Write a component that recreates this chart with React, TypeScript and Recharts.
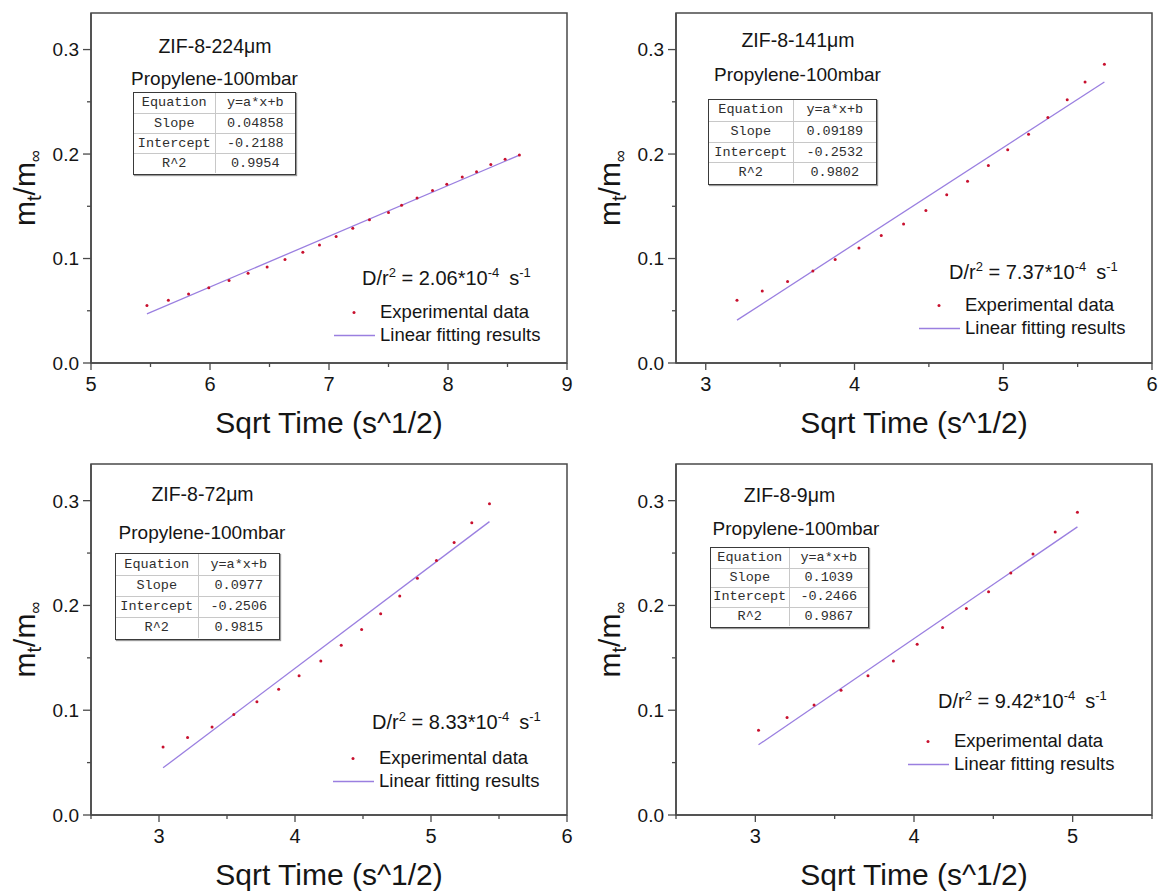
import React from "react";
import { ScatterChart, Scatter, XAxis, YAxis, ReferenceArea, Legend } from "recharts";

const FONT = "'Liberation Sans', Arial, Helvetica, sans-serif";
const MONO = "'Liberation Mono', 'DejaVu Sans Mono', monospace";
const AXIS = "#4a4a4a";
const DOT = "#c8102e";
const FIT = "#9a7fe0";
const TXT = "#151515";

// y axis (shared by all four panels)
const yTicks = [0, 0.05, 0.1, 0.15, 0.2, 0.25, 0.3];
const yDomain = [0, 0.335];

// ZIF-8-224um
const x224 = [5.47, 5.65, 5.82, 5.99, 6.16, 6.32, 6.48, 6.63, 6.78, 6.92, 7.06, 7.2, 7.34, 7.5, 7.61, 7.74, 7.87, 7.99, 8.12, 8.24, 8.36, 8.48, 8.6];
const y224 = [0.055, 0.06, 0.066, 0.072, 0.079, 0.086, 0.092, 0.099, 0.106, 0.113, 0.121, 0.129, 0.137, 0.144, 0.151, 0.158, 0.165, 0.171, 0.178, 0.183, 0.19, 0.195, 0.199];
const fitX224 = [5.47, 8.6];
const fitY224 = [0.047, 0.199];
const xTicks224 = [5, 5.5, 6, 6.5, 7, 7.5, 8, 8.5, 9];
const table224 = ["y=a*x+b", "0.04858", "-0.2188", "0.9954"];

// ZIF-8-141um
const x141 = [3.21, 3.38, 3.55, 3.72, 3.87, 4.03, 4.18, 4.33, 4.48, 4.62, 4.76, 4.9, 5.03, 5.17, 5.3, 5.43, 5.55, 5.68];
const y141 = [0.06, 0.069, 0.078, 0.088, 0.099, 0.11, 0.122, 0.133, 0.146, 0.161, 0.174, 0.189, 0.204, 0.219, 0.235, 0.252, 0.269, 0.286];
const fitX141 = [3.21, 5.68];
const fitY141 = [0.041, 0.269];
const xTicks141 = [3, 3.5, 4, 4.5, 5, 5.5, 6];
const table141 = ["y=a*x+b", "0.09189", "-0.2532", "0.9802"];

// ZIF-8-72um
const x72 = [3.03, 3.21, 3.39, 3.55, 3.72, 3.88, 4.03, 4.19, 4.34, 4.49, 4.63, 4.77, 4.9, 5.04, 5.17, 5.3, 5.43];
const y72 = [0.065, 0.074, 0.084, 0.096, 0.108, 0.12, 0.133, 0.147, 0.162, 0.177, 0.192, 0.209, 0.226, 0.243, 0.26, 0.279, 0.297];
const fitX72 = [3.03, 5.43];
const fitY72 = [0.045, 0.28];
const xTicks72 = [2.5, 3, 3.5, 4, 4.5, 5, 5.5, 6];
const table72 = ["y=a*x+b", "0.0977", "-0.2506", "0.9815"];

// ZIF-8-9um
const x9 = [3.02, 3.2, 3.37, 3.54, 3.71, 3.87, 4.02, 4.18, 4.33, 4.47, 4.61, 4.75, 4.89, 5.03];
const y9 = [0.081, 0.093, 0.105, 0.119, 0.133, 0.147, 0.163, 0.179, 0.197, 0.213, 0.231, 0.249, 0.27, 0.289];
const fitX9 = [3.02, 5.03];
const fitY9 = [0.067, 0.275];
const xTicks9 = [2.5, 3, 3.5, 4, 4.5, 5, 5.5];
const table9 = ["y=a*x+b", "0.1039", "-0.2466", "0.9867"];

const tableLabels = ["Equation", "Slope", "Intercept", "R^2"];
const gas = "Propylene-100mbar";

const pts = (xs: number[], ys: number[]) => xs.map((x, i) => ({ x, y: ys[i] }));

const panels = [
  {
    name: "ZIF-8-224μm", rate: "2.06", xs: x224, ys: y224, fx: fitX224, fy: fitY224, xTicks: xTicks224, xDomain: [5, 9], table: table224,
    left: 0, top: 0, width: 580, height: 445, margin: { top: 13, right: 13, left: 0, bottom: 0 }, yw: 91, xh: 82,
    t1: [215, 53], t2: [214.5, 85], d: [362, 285], tb: { l: 133, t: 92, w: 163, s: 82, h: 83 }, lg: [334, 300.5],
  },
  {
    name: "ZIF-8-141μm", rate: "7.37", xs: x141, ys: y141, fx: fitX141, fy: fitY141, xTicks: xTicks141, xDomain: [2.8, 6], table: table141,
    left: 580, top: 0, width: 579, height: 445, margin: { top: 13, right: 7, left: 0, bottom: 0 }, yw: 96, xh: 82,
    t1: [798, 47.3], t2: [797.5, 81], d: [949, 279], tb: { l: 708, t: 99, w: 169, s: 85, h: 86 }, lg: [339, 293.5],
  },
  {
    name: "ZIF-8-72μm", rate: "8.33", xs: x72, ys: y72, fx: fitX72, fy: fitY72, xTicks: xTicks72, xDomain: [2.5, 6], table: table72,
    left: 0, top: 447, width: 580, height: 445, margin: { top: 17, right: 13, left: 0, bottom: 0 }, yw: 91, xh: 77,
    t1: [202.5, 500.7], t2: [202, 539], d: [372, 729], tb: { l: 115, t: 553, w: 165, s: 83, h: 87 }, lg: [333, 299.5],
  },
  {
    name: "ZIF-8-9μm", rate: "9.42", xs: x9, ys: y9, fx: fitX9, fy: fitY9, xTicks: xTicks9, xDomain: [2.5, 5.5], table: table9,
    left: 580, top: 447, width: 579, height: 445, margin: { top: 17, right: 7, left: 0, bottom: 0 }, yw: 96, xh: 77,
    t1: [789.5, 501.7], t2: [796, 535.3], d: [938, 708.3], tb: { l: 710, t: 547, w: 159, s: 79, h: 81 }, lg: [328, 282.5],
  },
];

const isMajor = (v: number, step: number) => Math.abs(v / step - Math.round(v / step)) < 1e-6;

const XTick = (props: any) => {
  const { x, y, payload } = props;
  const v = payload.value;
  const major = isMajor(v, 1);
  return (
    <g>
      <line x1={x} x2={x} y1={y} y2={y + (major ? 7 : 4)} stroke={AXIS} strokeWidth={1.3} />
      {major && (
        <text x={x} y={y + 28} textAnchor="middle" fontSize={20} fontFamily={FONT} fill={TXT}>
          {v}
        </text>
      )}
    </g>
  );
};

const YTick = (props: any) => {
  const { x, y, payload } = props;
  const v = payload.value;
  const major = isMajor(v, 0.1);
  return (
    <g>
      <line x1={x - (major ? 8 : 4)} x2={x} y1={y} y2={y} stroke={AXIS} strokeWidth={1.3} />
      {major && (
        <text x={x - 12} y={y} dy="0.36em" textAnchor="end" fontSize={19} fontFamily={FONT} fill={TXT}>
          {v.toFixed(1)}
        </text>
      )}
    </g>
  );
};

const YTitle = (props: any) => {
  const vb = props.viewBox || {};
  const bx = vb.x + vb.width - 56;
  const cy = vb.y + vb.height / 2;
  return (
    <text transform={`translate(${bx},${cy}) rotate(-90)`} textAnchor="middle" fontSize={30} fontFamily={FONT} fill={TXT}>
      m<tspan dy={6} fontSize={20}>t</tspan>
      <tspan dy={-6}>/m</tspan>
      <tspan dy={6} fontSize={17}>∞</tspan>
    </text>
  );
};

const XTitle = (props: any) => {
  const vb = props.viewBox || {};
  return (
    <text x={vb.x + vb.width / 2} y={vb.y + 70} textAnchor="middle" fontSize={30} fontFamily={FONT} fill={TXT}>
      Sqrt Time (s^1/2)
    </text>
  );
};

const LegendBox = () => (
  <div style={{ fontFamily: FONT, fontSize: 18.5, color: TXT, whiteSpace: "nowrap" }}>
    <div style={{ display: "flex", alignItems: "center", height: 23 }}>
      <svg width={46} height={23}>
        <circle cx={20} cy={11.5} r={1.5} fill={DOT} />
      </svg>
      <span>Experimental data</span>
    </div>
    <div style={{ display: "flex", alignItems: "center", height: 23 }}>
      <svg width={46} height={23}>
        <line x1={0} x2={41} y1={11.5} y2={11.5} stroke={FIT} strokeWidth={1.5} />
      </svg>
      <span>Linear fitting results</span>
    </div>
  </div>
);

const Dot = (props: any) => <circle cx={props.cx} cy={props.cy} r={1.5} fill={DOT} />;

const FitTable = ({ tb, values }: any) => {
  const rh = (tb.h - 3) / 4;
  return (
    <div
      style={{
        position: "absolute", left: tb.l, top: tb.t, width: tb.w, height: tb.h, boxSizing: "border-box",
        border: "1.5px solid #3a3a3a", background: "#fff", boxShadow: "1px 1px 1px #999",
        fontFamily: MONO, fontSize: 13.5, color: "#2e2e2e",
      }}
    >
      {tableLabels.map((lab, i) => (
        <div key={lab} style={{ display: "flex", height: rh, borderTop: i ? "1px solid #c8c8c8" : "none", boxSizing: "border-box" }}>
          <div style={{ width: tb.s - 1.5, textAlign: "center", lineHeight: `${rh - (i ? 1 : 0)}px`, borderRight: "1px solid #c8c8c8" }}>{lab}</div>
          <div style={{ flex: 1, textAlign: "center", lineHeight: `${rh - (i ? 1 : 0)}px` }}>{values[i]}</div>
        </div>
      ))}
    </div>
  );
};

const Panel = ({ p }: any) => (
  <div style={{ position: "absolute", left: p.left, top: p.top }}>
    <ScatterChart width={p.width} height={p.height} margin={p.margin}>
      <XAxis
        type="number" dataKey="x" domain={p.xDomain} ticks={p.xTicks} interval={0} allowDataOverflow
        height={p.xh} tickSize={0} tickMargin={0} tickLine={false} tick={<XTick />}
        axisLine={{ stroke: AXIS, strokeWidth: 1.5 }} label={{ content: <XTitle /> }}
      />
      <YAxis
        type="number" dataKey="y" domain={yDomain} ticks={yTicks} interval={0} allowDataOverflow
        width={p.yw} tickSize={0} tickMargin={0} tickLine={false} tick={<YTick />}
        axisLine={{ stroke: AXIS, strokeWidth: 1.5 }} label={{ content: <YTitle /> }}
      />
      <ReferenceArea x1={p.xDomain[0]} x2={p.xDomain[1]} y1={yDomain[0]} y2={yDomain[1]} fill="none" stroke={AXIS} strokeWidth={1.5} ifOverflow="visible" />
      <Scatter name="Linear fitting results" data={pts(p.fx, p.fy)} line={{ stroke: FIT, strokeWidth: 1.3 }} shape={() => <g />} isAnimationActive={false} />
      <Scatter name="Experimental data" data={pts(p.xs, p.ys)} shape={<Dot />} isAnimationActive={false} />
      <Legend
        layout="horizontal" verticalAlign="middle" align="center"
        wrapperStyle={{ left: p.lg[0], top: p.lg[1], width: 240 }}
        content={() => <LegendBox />}
      />
    </ScatterChart>
  </div>
);

export default function App() {
  return (
    <div style={{ position: "absolute", left: 0, top: 0, width: 1159, height: 892, background: "#fff", overflow: "hidden" }}>
      {panels.map((p) => (
        <Panel key={p.name} p={p} />
      ))}
      {panels.map((p) => (
        <FitTable key={p.name + "t"} tb={p.tb} values={p.table} />
      ))}
      <svg width={1159} height={892} style={{ position: "absolute", left: 0, top: 0, pointerEvents: "none" }}>
        {panels.map((p) => (
          <g key={p.name + "s"} fontFamily={FONT} fill={TXT}>
            <text x={p.t1[0]} y={p.t1[1]} textAnchor="middle" fontSize={19.5}>{p.name}</text>
            <text x={p.t2[0]} y={p.t2[1]} textAnchor="middle" fontSize={19}>{gas}</text>
            <text x={p.d[0]} y={p.d[1]} fontSize={20}>
              D/r<tspan dy={-8} fontSize={13}>2</tspan>
              <tspan dy={8}>{` = ${p.rate}*10`}</tspan>
              <tspan dy={-8} fontSize={13}>-4</tspan>
              <tspan dy={8} dx={10}>s</tspan>
              <tspan dy={-8} fontSize={13}>-1</tspan>
            </text>
          </g>
        ))}
      </svg>
    </div>
  );
}
